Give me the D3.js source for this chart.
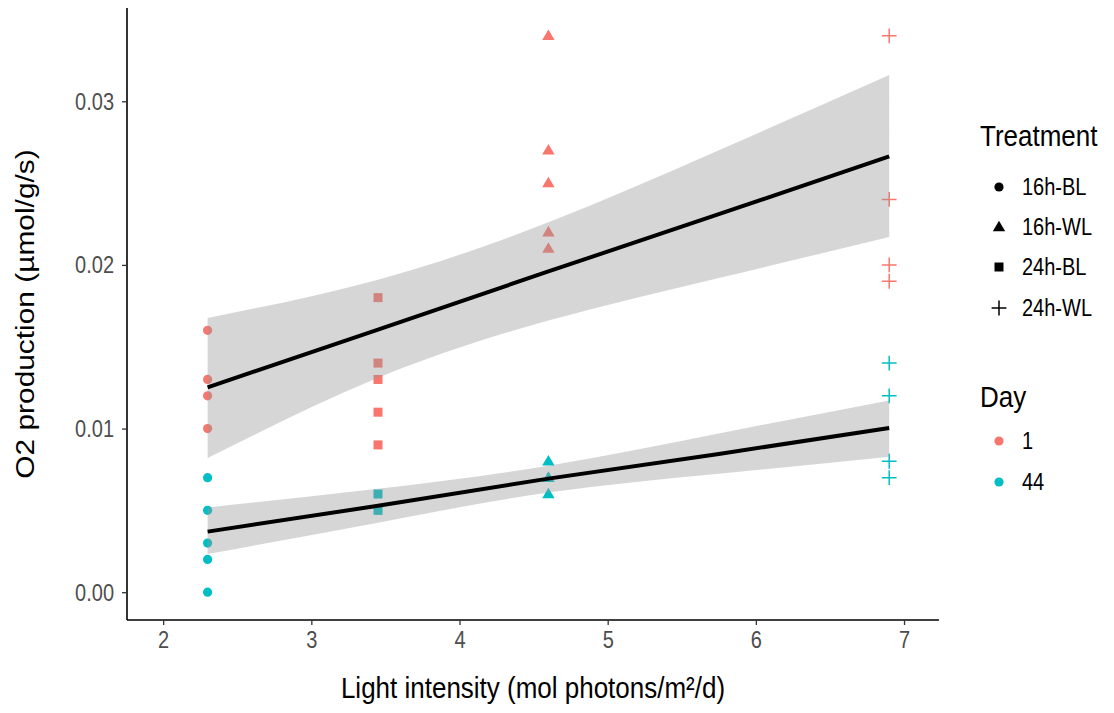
<!DOCTYPE html>
<html>
<head>
<meta charset="utf-8">
<script src="https://cdn.jsdelivr.net/npm/d3@7"></script>
<style>
  body { margin: 0; background: #fff; }
  text { font-family: "Liberation Sans", Arial, sans-serif; }
</style>
</head>
<body>
<svg id="chart" width="1114" height="713"></svg>
<script>
// ---- data ----
const treatments = ["16h-BL", "16h-WL", "24h-BL", "24h-WL"];
const treatmentLight = [2.3, 4.6, 3.45, 6.9];   // mol photons/m²/d for each treatment
const days = ["1", "44"];
const dayColors = ["#F8766D", "#00BFC4"];

// one entry per measurement
const obsTreatment = [
  "16h-BL","16h-BL","16h-BL","16h-BL","16h-BL","16h-BL","16h-BL","16h-BL","16h-BL",
  "24h-BL","24h-BL","24h-BL","24h-BL","24h-BL","24h-BL","24h-BL",
  "16h-WL","16h-WL","16h-WL","16h-WL","16h-WL","16h-WL","16h-WL","16h-WL",
  "24h-WL","24h-WL","24h-WL","24h-WL","24h-WL","24h-WL","24h-WL","24h-WL"
];
const obsDay = [
  "1","1","1","1","44","44","44","44","44",
  "1","1","1","1","1","44","44",
  "1","1","1","1","1","44","44","44",
  "1","1","1","1","44","44","44","44"
];
const obsO2 = [
  0.016, 0.013, 0.012, 0.010, 0.007, 0.005, 0.003, 0.002, 0.000,
  0.018, 0.014, 0.013, 0.011, 0.009, 0.006, 0.005,
  0.034, 0.027, 0.025, 0.022, 0.021, 0.008, 0.007, 0.006,
  0.034, 0.024, 0.020, 0.019, 0.014, 0.012, 0.008, 0.007
];

// fitted trend and 95% confidence band per day
const fitLight  = [2.3, 3.45, 4.6, 5.75, 6.9];
const fitDay1   = [0.01252, 0.01605, 0.0196, 0.0231, 0.02663];
const upperDay1 = [0.01676, 0.0191, 0.0226, 0.0270, 0.0316];
const lowerDay1 = [0.0082, 0.0131, 0.0166, 0.0192, 0.0217];
const fitDay44   = [0.0037, 0.00528, 0.00694, 0.00845, 0.01003];
const upperDay44 = [0.00517, 0.00632, 0.00773, 0.0097, 0.01172];
const lowerDay44 = [0.00233, 0.00425, 0.00609, 0.00724, 0.00828];

const xTicks = [2, 3, 4, 5, 6, 7];
const yTicks = [0, 0.01, 0.02, 0.03];

// ---- layout ----
const svg = d3.select("#chart");
const panel = { left: 127, right: 939, top: 8, bottom: 620 };
const stretch = 1.15;         // glyphs are drawn a little taller than wide
const titleSize = 26, textSize = 20;

const x = d3.scaleLinear().domain([1.756, 7.236]).range([panel.left, panel.right]);
const y = d3.scaleLinear().domain([-0.0017, 0.0357]).range([panel.bottom, panel.top]);
const color = d3.scaleOrdinal().domain(days).range(dayColors);
const lightOf = d3.scaleOrdinal().domain(treatments).range(treatmentLight);

// marker shapes: filled circle, filled triangle, filled square, plus
function shapePath(t) {
  switch (t) {
    case "16h-BL": { const r = 4.6; return `M${-r},0A${r},${r} 0 1,0 ${r},0A${r},${r} 0 1,0 ${-r},0Z`; }
    case "16h-WL": { const w = 6.2, h = 10.6; return `M0,${-h * 0.6}L${w},${h * 0.4}L${-w},${h * 0.4}Z`; }
    case "24h-BL": { const s = 4.5; return `M${-s},${-s}H${s}V${s}H${-s}Z`; }
    default: { const s = 7.4; return `M${-s},0H${s}M0,${-s}V${s}`; }
  }
}
const filled = t => t !== "24h-WL";

// horizontal label placed at (px, py) baseline, drawn with vertical stretch
function label(g, px, py, size, txt, anchor = "start", fill = "#000") {
  return g.append("text")
    .attr("transform", `translate(${px},${py}) scale(1,${stretch})`)
    .attr("text-anchor", anchor)
    .style("font-size", size + "px")
    .attr("fill", fill)
    .text(txt);
}

// ---- points ----
const obs = obsO2.map((v, i) => ({ t: obsTreatment[i], d: obsDay[i], v }));
svg.append("g").selectAll("path").data(obs).join("path")
  .attr("transform", o => `translate(${x(lightOf(o.t))},${y(o.v)})`)
  .attr("d", o => shapePath(o.t))
  .attr("fill", o => filled(o.t) ? color(o.d) : "none")
  .attr("stroke", o => filled(o.t) ? "none" : color(o.d))
  .attr("stroke-width", 1.5);

// ---- confidence bands and trend lines ----
const band = d3.area()
  .x((d, i) => x(fitLight[i]))
  .y0(d => y(d[0])).y1(d => y(d[1]))
  .curve(d3.curveNatural);
const trend = d3.line().x((d, i) => x(fitLight[i])).y(d => y(d));

[[lowerDay1, upperDay1, fitDay1], [lowerDay44, upperDay44, fitDay44]].forEach(([lo, hi, fit]) => {
  svg.append("path")
    .datum(lo.map((l, i) => [l, hi[i]]))
    .attr("d", band)
    .attr("fill", "#999999").attr("fill-opacity", 0.4);
  svg.append("path")
    .datum(fit)
    .attr("d", trend)
    .attr("fill", "none").attr("stroke", "#000").attr("stroke-width", 4);
});

// ---- axes ----
const xAxis = svg.append("g").attr("transform", `translate(0,${panel.bottom})`)
  .call(d3.axisBottom(x).tickValues(xTicks).tickSize(5).tickFormat(d3.format("d")));
const yAxis = svg.append("g").attr("transform", `translate(${panel.left},0)`)
  .call(d3.axisLeft(y).tickValues(yTicks).tickSize(5).tickFormat(d3.format(".2f")));

[xAxis, yAxis].forEach(a => {
  a.select(".domain").attr("stroke", "#000").attr("stroke-width", 1.6);
  a.selectAll(".tick line").attr("stroke", "#333").attr("stroke-width", 1.3);
  a.selectAll(".tick text").remove();
});
xAxis.select(".domain").attr("d", `M${panel.left},0H${panel.right}`);
yAxis.select(".domain").attr("d", `M0,${panel.bottom}V${panel.top}`);

// tick labels
xAxis.selectAll(".tick").each(function (d) {
  label(d3.select(this), 0, 28, textSize, d3.format("d")(d), "middle", "#4D4D4D");
});
yAxis.selectAll(".tick").each(function (d) {
  label(d3.select(this), -13, 8, textSize, d3.format(".2f")(d), "end", "#4D4D4D");
});

// ---- axis titles ----
label(svg, (panel.left + panel.right) / 2, 698, titleSize, "Light intensity (mol photons/m²/d)", "middle");
svg.append("text")
  .attr("transform", `translate(34,${(panel.top + panel.bottom) / 2}) rotate(-90) scale(${stretch},1)`)
  .attr("text-anchor", "middle").style("font-size", titleSize + "px").attr("fill", "#000")
  .text("O2 production (µmol/g/s)");

// ---- legends ----
const legend = svg.append("g");
label(legend, 980, 146, titleSize, "Treatment");
const tRows = [187, 227, 267, 308];
treatments.forEach((t, i) => {
  legend.append("path")
    .attr("transform", `translate(999,${tRows[i]})`)
    .attr("d", shapePath(t))
    .attr("fill", filled(t) ? "#000" : "none")
    .attr("stroke", filled(t) ? "none" : "#000").attr("stroke-width", 1.5);
  label(legend, 1022, tRows[i] + 8, textSize, t);
});

label(legend, 980, 407, titleSize, "Day");
const dRows = [441, 482];
days.forEach((d, i) => {
  legend.append("path")
    .attr("transform", `translate(999,${dRows[i]})`)
    .attr("d", shapePath("16h-BL"))
    .attr("fill", color(d));
  label(legend, 1022, dRows[i] + 8, textSize, d);
});
</script>
</body>
</html>
